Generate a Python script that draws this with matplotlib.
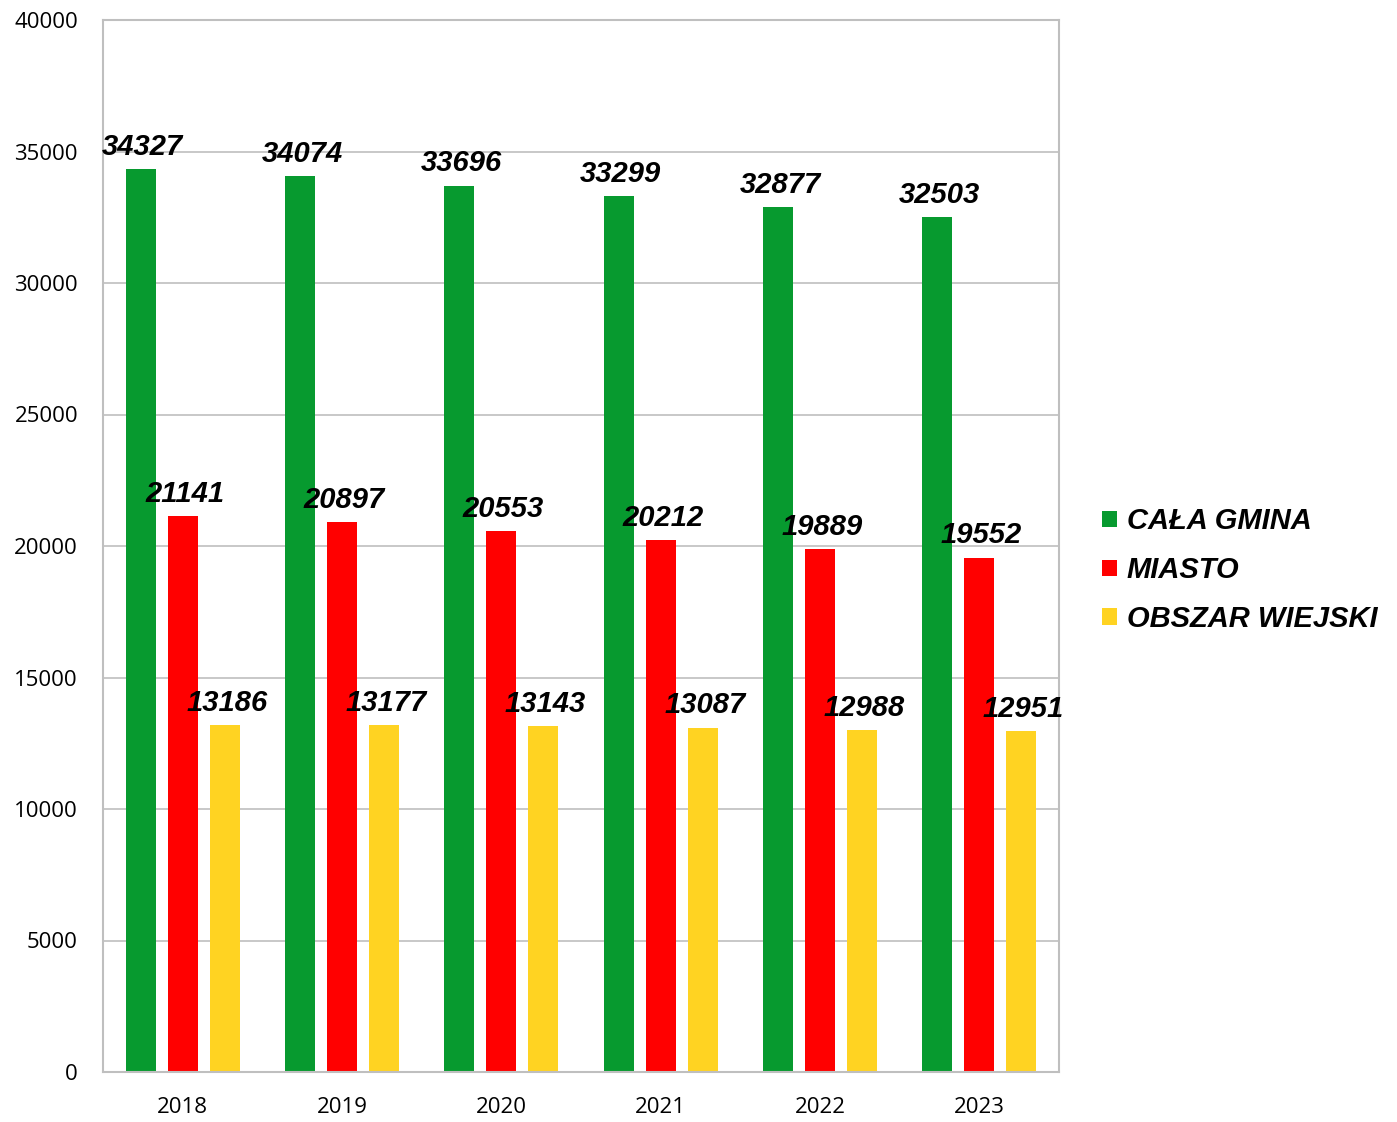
import matplotlib
matplotlib.use("Agg")
import matplotlib.pyplot as plt
import numpy as np

years = ["2018", "2019", "2020", "2021", "2022", "2023"]
series_names = ["CAŁA GMINA", "MIASTO", "OBSZAR WIEJSKI"]
cala_gmina = [34327, 34074, 33696, 33299, 32877, 32503]
miasto = [21141, 20897, 20553, 20212, 19889, 19552]
obszar_wiejski = [13186, 13177, 13143, 13087, 12988, 12951]
colors = ["#079a2f", "#ff0000", "#ffd322"]

fig = plt.figure(figsize=(13.97, 11.22), dpi=100)
ax = fig.add_axes([103/1397, 1 - 1072/1122, (1059-103)/1397, (1072-20)/1122])

x = np.arange(len(years))
width = 0.188
offsets = [-0.264, 0.0, 0.264]
label_font = dict(family="Liberation Sans", weight="bold", style="italic", size=21)

for vals, off, col, name in zip([cala_gmina, miasto, obszar_wiejski], offsets, colors, series_names):
    bars = ax.bar(x + off, vals, width=width, color=col, label=name, zorder=2)
    for b, v in zip(bars, vals):
        ax.annotate(str(v), (b.get_x() + b.get_width()/2, v), xytext=(1.5, 6),
                    textcoords="offset points", ha="center", va="bottom",
                    zorder=3, **label_font)

ax.set_xlim(-0.5, len(years) - 0.5)
ax.set_ylim(0, 40000)
ax.set_yticks(np.arange(0, 40001, 5000))
ax.set_xticks(x)
ax.set_xticklabels(years)
ax.tick_params(axis="both", length=0, labelsize=16)
ax.tick_params(axis="y", pad=18)
ax.tick_params(axis="x", pad=18)
for lab in ax.get_xticklabels() + ax.get_yticklabels():
    lab.set_fontfamily("Open Sans")

ax.grid(axis="y", color="#bfbfbf", linewidth=1.2, zorder=0)
ax.set_axisbelow(True)
for s in ax.spines.values():
    s.set_color("#bfbfbf")
    s.set_linewidth(1.5)

leg = ax.legend(loc="center left", bbox_to_anchor=(1.045, 0.477), frameon=False,
                borderaxespad=0, borderpad=0,
                prop=dict(family="Liberation Sans", weight="bold", style="italic", size=21),
                handlelength=0.5, handleheight=0.5, handletextpad=0.35, labelspacing=0.71)

fig.savefig("out.png", dpi=100)
